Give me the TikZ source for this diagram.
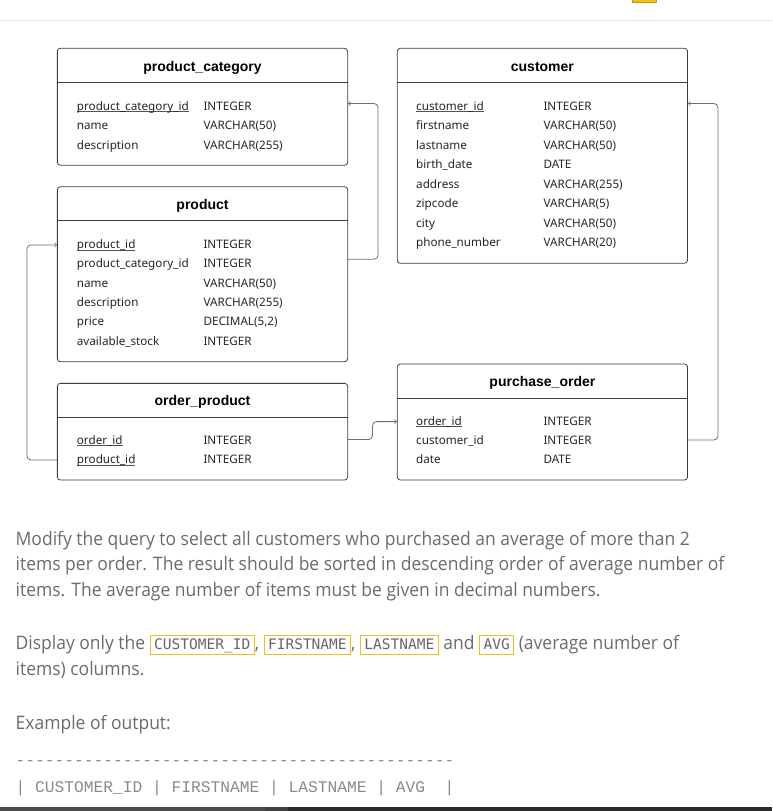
\documentclass[tikz,border=0pt]{standalone}
\usepackage{fontspec}
\usepackage{tikz}
\usetikzlibrary{calc}

\newfontfamily\dgfont{Noto Sans}
\newfontfamily\ttlfont{Liberation Sans}
\newfontfamily\parafont[FakeStretch=0.94]{Open Sans}
\newfontfamily\codefont{DejaVu Sans Mono}
\newfontfamily\outfont[Ligatures=TeXOff]{Liberation Mono}

\definecolor{boxgray}{HTML}{3C3C3C}
\definecolor{linkgray}{HTML}{6E6E6E}
\definecolor{txtgray}{HTML}{262626}
\definecolor{paragray}{HTML}{6B6B6B}
\definecolor{codegray}{HTML}{666666}
\definecolor{outgray}{HTML}{8A8A8A}
\definecolor{codeyellow}{HTML}{F0BE1E}
\definecolor{rulegray}{HTML}{E6E6E6}

% underlined key column
\newcommand{\pkey}[1]{\setbox0\hbox{#1}\rlap{\textcolor{txtgray!80}{\rule[-1.8pt]{\wd0}{0.6pt}}}\box0}
% inline code in a yellow frame
\newcommand{\code}[1]{{\fboxsep=0pt\fboxrule=1pt\fcolorbox{codeyellow}{white}{\hspace{3.5pt}\rule[-5pt]{0pt}{18pt}{\codefont\fontsize{14.5}{14.5}\selectfont\color{codegray}#1}\hspace{3.5pt}}}}

\begin{document}
\begin{tikzpicture}[x=1pt,y=-1pt,
    tbl/.style={draw=boxgray,line width=0.8pt,rounded corners=3pt,inner sep=0pt,minimum width=290.3pt},
    ttl/.style={font=\ttlfont\bfseries\fontsize{14}{14}\selectfont,anchor=base,inner sep=0pt,text=black},
    fld/.style={font=\dgfont\fontsize{11.7}{11.7}\selectfont,anchor=base west,inner sep=0pt,text=txtgray},
    link/.style={draw=linkgray,line width=0.8pt,rounded corners=4pt,->},
    para/.style={font=\parafont\fontsize{18.6}{25.8}\selectfont,anchor=base west,inner sep=0pt,text=paragray},
    outline/.style={font=\outfont\fontsize{16.25}{16.25}\selectfont,anchor=base west,inner sep=0pt,text=outgray}]
    \useasboundingbox (0,0) rectangle (772,811);

    % page bits
    \fill[rulegray] (0,19.5) rectangle (772,20.5);
    \filldraw[fill=codeyellow,draw=codeyellow!80!black,line width=0.6pt] (632.5,-2) rectangle (656.5,2.5);
    \fill[black!70] (0,806.7) rectangle (265,811);
    \fill[black!75] (265,806.7) rectangle (288,811);
    \fill[black!83] (288,806.7) rectangle (772,811);

    % tables
    \node[tbl,minimum height=117pt] (pcat) at (202.5,106.8) {};
    \node[tbl,minimum height=175pt] (prod) at (202.5,274.2) {};
    \node[tbl,minimum height=96.7pt] (ordprod) at (202.5,431.7) {};
    \node[tbl,minimum height=215pt] (cust) at (542.4,155.8) {};
    \node[tbl,minimum height=116pt] (purord) at (542.4,422) {};

    \draw[boxgray,line width=0.8pt] ($(pcat.north west)+(0,34.4)$) -- ($(pcat.north east)+(0,34.4)$);
    \draw[boxgray,line width=0.8pt] ($(prod.north west)+(0,34.4)$) -- ($(prod.north east)+(0,34.4)$);
    \draw[boxgray,line width=0.8pt] ($(ordprod.north west)+(0,34.4)$) -- ($(ordprod.north east)+(0,34.4)$);
    \draw[boxgray,line width=0.8pt] ($(cust.north west)+(0,34.4)$) -- ($(cust.north east)+(0,34.4)$);
    \draw[boxgray,line width=0.8pt] ($(purord.north west)+(0,34.4)$) -- ($(purord.north east)+(0,34.4)$);

    \node[ttl] (pcatT) at (202.5,71) {product\_category};
    \node[ttl] (prodT) at (202.5,209.3) {product};
    \node[ttl] (ordprodT) at (202.5,405.7) {order\_product};
    \node[ttl] (custT) at (542.4,71) {customer};
    \node[ttl] (purordT) at (542.4,386) {purchase\_order};

    % product_category
    \node[fld] (pcat1) at (76.7,110) {\pkey{product\_category\_id}};
    \node[fld] (pcat1t) at (203.3,110) {INTEGER};
    \node[fld] (pcat2) at (76.7,129.5) {name};
    \node[fld] (pcat2t) at (203.3,129.5) {VARCHAR(50)};
    \node[fld] (pcat3) at (76.7,149) {description};
    \node[fld] (pcat3t) at (203.3,149) {VARCHAR(255)};

    % product
    \node[fld] (prod1) at (76.7,248.3) {\pkey{product\_id}};
    \node[fld] (prod1t) at (203.3,248.3) {INTEGER};
    \node[fld] (prod2) at (76.7,267.7) {product\_category\_id};
    \node[fld] (prod2t) at (203.3,267.7) {INTEGER};
    \node[fld] (prod3) at (76.7,287.1) {name};
    \node[fld] (prod3t) at (203.3,287.1) {VARCHAR(50)};
    \node[fld] (prod4) at (76.7,306.5) {description};
    \node[fld] (prod4t) at (203.3,306.5) {VARCHAR(255)};
    \node[fld] (prod5) at (76.7,325.9) {price};
    \node[fld] (prod5t) at (203.3,325.9) {DECIMAL(5,2)};
    \node[fld] (prod6) at (76.7,345.3) {available\_stock};
    \node[fld] (prod6t) at (203.3,345.3) {INTEGER};

    % order_product
    \node[fld] (ordprod1) at (76.7,444) {\pkey{order\_id}};
    \node[fld] (ordprod1t) at (203.3,444) {INTEGER};
    \node[fld] (ordprod2) at (76.7,463.4) {\pkey{product\_id}};
    \node[fld] (ordprod2t) at (203.3,463.4) {INTEGER};

    % customer
    \node[fld] (cust1) at (416,110) {\pkey{customer\_id}};
    \node[fld] (cust1t) at (543.3,110) {INTEGER};
    \node[fld] (cust2) at (416,129.5) {firstname};
    \node[fld] (cust2t) at (543.3,129.5) {VARCHAR(50)};
    \node[fld] (cust3) at (416,149) {lastname};
    \node[fld] (cust3t) at (543.3,149) {VARCHAR(50)};
    \node[fld] (cust4) at (416,168.5) {birth\_date};
    \node[fld] (cust4t) at (543.3,168.5) {DATE};
    \node[fld] (cust5) at (416,188) {address};
    \node[fld] (cust5t) at (543.3,188) {VARCHAR(255)};
    \node[fld] (cust6) at (416,207.5) {zipcode};
    \node[fld] (cust6t) at (543.3,207.5) {VARCHAR(5)};
    \node[fld] (cust7) at (416,227) {city};
    \node[fld] (cust7t) at (543.3,227) {VARCHAR(50)};
    \node[fld] (cust8) at (416,246.5) {phone\_number};
    \node[fld] (cust8t) at (543.3,246.5) {VARCHAR(20)};

    % purchase_order
    \node[fld] (purord1) at (416,425) {\pkey{order\_id}};
    \node[fld] (purord1t) at (543.3,425) {INTEGER};
    \node[fld] (purord2) at (416,444.4) {customer\_id};
    \node[fld] (purord2t) at (543.3,444.4) {INTEGER};
    \node[fld] (purord3) at (416,463.8) {date};
    \node[fld] (purord3t) at (543.3,463.8) {DATE};

    % links
    \draw[link] ($(prod2.base -| prod.east)+(0,-8.5)$) -- ++(30,0) |- ($(pcat1.base -| pcat.east)+(0,-6.5)$);
    \draw[link] ($(ordprod2.base -| ordprod.west)+(0,-3.4)$) -- ++(-30,0) |- ($(prod1.base -| prod.west)+(0,-3.4)$);
    \draw[link] ($(ordprod1.base -| ordprod.east)+(0,-4.5)$) -- ++(24.5,0) |- ($(purord1.base -| purord.west)+(0,-3.4)$);
    \draw[link] ($(purord2.base -| purord.east)+(0,-4.4)$) -- ++(30,0) |- ($(cust1.base -| cust.east)+(0,-6.5)$);

    % task text
    \node[para] (l1) at (15.5,545) {Modify the query to select all customers who purchased an average of more than 2};
    \node[para] (l2) at (15.5,570.8) {items per order. The result should be sorted in descending order of average number of};
    \node[para] (l3) at (15.5,596.5) {items. The average number of items must be given in decimal numbers.};
    \node[para] (l4) at (15.5,649.3) {Display only the \code{CUSTOMER\_ID}, \code{FIRSTNAME}, \code{LASTNAME} and \code{AVG} (average number of};
    \node[para] (l5) at (15.5,675) {items) columns.};
    \node[para] (l6) at (15.5,729.3) {Example of output:};

    \node[outline] (out1) at (15.5,765) {---------------------------------------------};
    \node[outline] (out2) at (15.5,792.7) {|\ CUSTOMER\_ID\ |\ FIRSTNAME\ |\ LASTNAME\ |\ AVG\ \ |};
\end{tikzpicture}
\end{document}
